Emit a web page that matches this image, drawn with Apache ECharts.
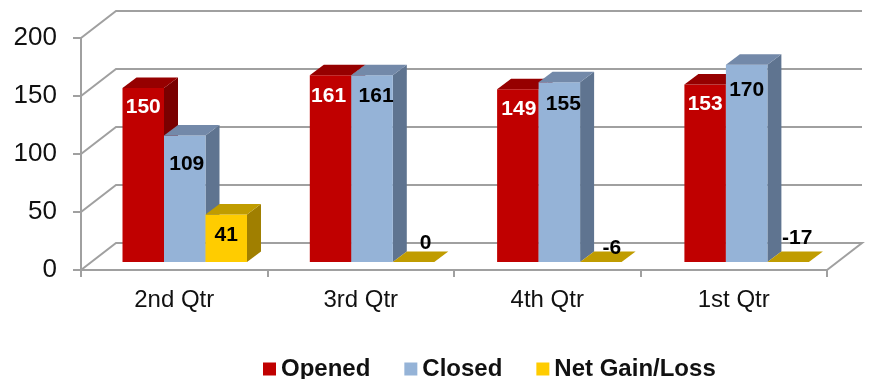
<!DOCTYPE html>
<html><head><meta charset="utf-8">
<style>html,body{margin:0;padding:0;background:#fff}#c{width:869px;height:379px}</style>
<script src="https://cdn.jsdelivr.net/npm/echarts@6/dist/echarts.min.js"></script>
</head><body><div id="c"></div>
<script>
const categories = ['2nd Qtr', '3rd Qtr', '4th Qtr', '1st Qtr'];
const opened = [150, 161, 149, 153];
const closed = [109, 161, 155, 170];
const netGainLoss = [41, 0, -6, -17];
const yTicks = [0, 50, 100, 150, 200];

const FONT = '"Liberation Sans", Arial, sans-serif';
const WALL = { dx: 35, dy: -27 };
const DEPTH = { frontX: 10.5, frontY: -8, dx: 14, dy: -10.5, drift: 0.8 };
const GRID_COLOR = '#A0A0A0';
const LABEL_NUDGE = {
  Opened: [[0, 19], [-2, 21], [1, 20], [0, 20]],
  Closed: [[2, 29], [4, 21], [4, 22], [0, 25]],
  'Net Gain/Loss': [[0, 21], [12, -19], [11, -14], [9, -24]]
};
const STYLES = [
  { name: 'Opened', data: opened, slot: 0, front: '#C00000', top: '#960000', side: '#7A0000', label: '#fff' },
  { name: 'Closed', data: closed, slot: 1, front: '#95B3D7', top: '#7389A9', side: '#5F7490', label: '#000' },
  { name: 'Net Gain/Loss', data: netGainLoss, slot: 2, front: '#FFCC00', top: '#C09C00', side: '#A07F00', label: '#000' }
];

function poly(points, fill) {
  return { type: 'polygon', shape: { points: points }, style: { fill: fill } };
}
function barRenderer(st) {
  return function (params, api) {
    const cat = api.value(0), v = api.value(1);
    const center = api.coord([cat, 0]);
    const band = api.size([1, 0])[0];
    const barW = band * 0.2225;
    const x0 = center[0] - 1.5 * barW + st.slot * barW + DEPTH.frontX + cat * DEPTH.drift;
    const x1 = x0 + barW;
    const yb = center[1] + DEPTH.frontY;
    const yt = api.coord([cat, Math.max(0, v)])[1] + DEPTH.frontY;
    const d = DEPTH;
    const children = [];
    if (v > 0) {
      children.push(poly([[x1, yt], [x1 + d.dx, yt + d.dy], [x1 + d.dx, yb + d.dy], [x1, yb]], st.side));
      children.push(poly([[x0, yt], [x1, yt], [x1, yb], [x0, yb]], st.front));
    }
    children.push(poly([[x0, yt], [x1, yt], [x1 + d.dx, yt + d.dy], [x0 + d.dx, yt + d.dy]], st.top));
    const n = LABEL_NUDGE[st.name][params.dataIndex];
    children.push({
      type: 'text', z2: 20,
      style: {
        x: (x0 + x1) / 2 + n[0], y: yt + n[1], text: String(v),
        fill: st.label, font: 'bold 21px ' + FONT, align: 'center', verticalAlign: 'middle'
      }
    });
    return { type: 'group', children: children };
  };
}
function wallRenderer(params, api) {
  const v = api.value(1);
  const cs = params.coordSys;
  const y = api.coord([0, v])[1];
  const L = cs.x, R = cs.x + cs.width;
  const pts = [[L, y], [L + WALL.dx, y + WALL.dy], [R + WALL.dx, y + WALL.dy]];
  if (v === 0) pts.push([R, y]);
  return { type: 'polyline', shape: { points: pts }, style: { stroke: GRID_COLOR, lineWidth: 2, fill: null } };
}

const series = [{
  type: 'custom', name: 'walls', silent: true, clip: false, z: 1,
  renderItem: wallRenderer,
  encode: { x: 0, y: 1 },
  data: yTicks.map(v => [0, v])
}].concat(STYLES.map(st => ({
  type: 'custom', name: st.name, clip: false, z: 3,
  renderItem: barRenderer(st),
  itemStyle: { color: st.front },
  encode: { x: 0, y: 1 },
  data: st.data.map((v, i) => [i, v])
})));

const chart = echarts.init(document.getElementById('c'), null, { renderer: 'canvas' });
chart.setOption({
  animation: false,
  backgroundColor: '#fff',
  grid: { left: 81, right: 42, top: 38, bottom: 109, containLabel: false },
  xAxis: {
    type: 'category', data: categories,
    axisLine: { onZero: false, lineStyle: { color: GRID_COLOR, width: 2 } },
    axisTick: { show: true, alignWithLabel: false, length: 7, lineStyle: { color: GRID_COLOR, width: 2 } },
    axisLabel: { color: '#111', fontFamily: FONT, fontSize: 24, margin: 18 },
    splitLine: { show: false }
  },
  yAxis: {
    type: 'value', min: 0, max: 200, interval: 50,
    axisLine: { show: true, lineStyle: { color: GRID_COLOR, width: 2 } },
    axisTick: { show: true, length: 8, lineStyle: { color: GRID_COLOR, width: 2 } },
    axisLabel: { color: '#111', fontFamily: FONT, fontSize: 26, margin: 24, padding: [2, 0, 0, 0] },
    splitLine: { show: false }
  },
  legend: {
    data: STYLES.map(s => s.name),
    left: 263, top: 357, icon: 'rect', itemWidth: 13, itemHeight: 13, itemGap: 34,
    textStyle: { fontFamily: FONT, fontSize: 24, fontWeight: 'bold', color: '#111' },
    padding: 0, selectedMode: false
  },
  tooltip: { show: false },
  series: series
});
</script></body></html>
